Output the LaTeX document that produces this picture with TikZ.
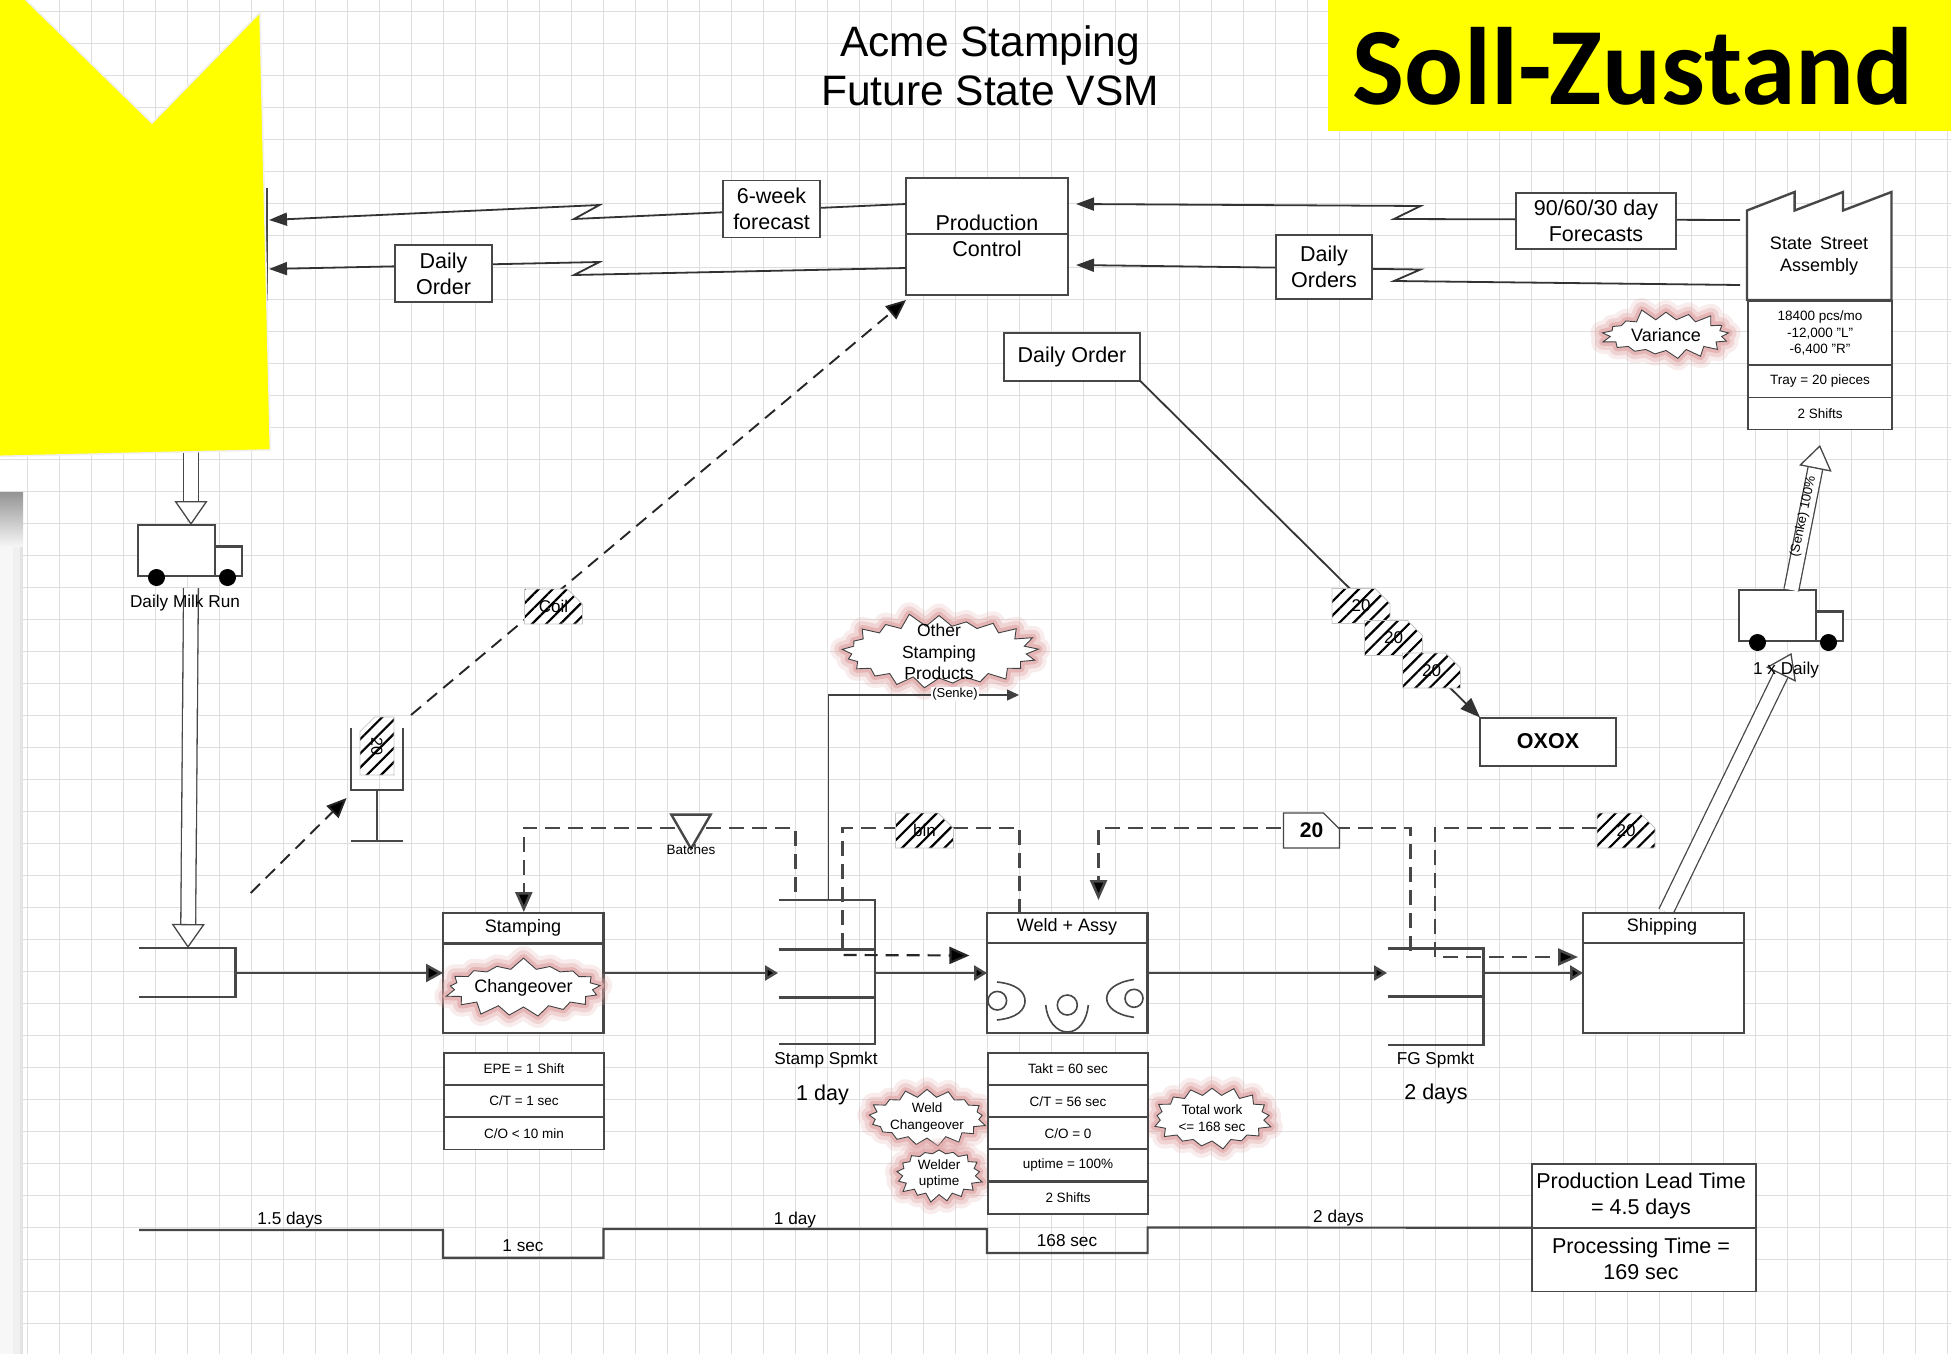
\documentclass[tikz,border=0pt]{standalone}
\usepackage{fontspec}
\setmainfont{Liberation Sans}
\newfontfamily\headfont{Carlito}
\usetikzlibrary{arrows.meta,shapes.misc,shapes.symbols,shapes.geometric,patterns.meta}
\definecolor{inkline}{gray}{0.28}
\definecolor{gridline}{gray}{0.87}
\definecolor{glowpink}{RGB}{226,170,170}
\definecolor{signyellow}{RGB}{255,255,0}
\tikzset{
  big/.style={font=\fontsize{21.5}{26}\selectfont,align=center,inner sep=0pt},
  mid/.style={font=\fontsize{18}{22}\selectfont,align=center,inner sep=0pt},
  tiny/.style={font=\fontsize{13.5}{16.5}\selectfont,align=center,inner sep=0pt},
  infobox/.style={draw=inkline,line width=1.6pt,fill=white,big,outer sep=0pt},
  procbox/.style={draw=inkline,line width=2.2pt,fill=white,outer sep=0pt},
  datacell/.style={draw=inkline,line width=1.6pt,fill=white,tiny,outer sep=0pt},
  boxline/.style={draw=inkline,line width=2.4pt},
  barline/.style={draw=inkline,line width=3pt},
  infoline/.style={draw=black!80,line width=1.8pt,-{Triangle[length=18pt,width=13pt]}},
  pushline/.style={draw=inkline,line width=2.5pt,-{Triangle[length=13pt,width=15pt,fill=black]}},
  pullline/.style={draw=inkline,line width=2.6pt,dash pattern=on 15pt off 8pt},
  dashflow/.style={draw=black!85,line width=1.9pt,dash pattern=on 13pt off 8pt},
  bigtip/.style={-{Triangle[length=20pt,width=17pt,fill=black]}},
  openflow/.style={draw=inkline,line width=1.3pt,double=white,double distance=13.5pt,
    -{Triangle[length=24pt,width=33pt,line width=1.3pt,fill=white]}},
  kanban/.style={chamfered rectangle,chamfered rectangle corners=north east,
    chamfered rectangle xsep=9pt,chamfered rectangle ysep=9pt,
    minimum width=58pt,minimum height=35pt,inner sep=0pt,outer sep=0pt,
    font=\fontsize{17}{20}\selectfont,draw=black!22,line width=.8pt,
    preaction={fill=white},pattern={Lines[angle=45,distance=10pt,line width=2.2pt]}},
  burst/.style={starburst,starburst points=17,starburst point height=12pt,
    random starburst=#1,draw=black!75,fill=white,line width=.9pt,inner sep=0pt,
    outer sep=0pt,align=center,line join=miter,
    preaction={draw=glowpink,opacity=.22,line width=24pt,line join=round},
    preaction={draw=glowpink,opacity=.35,line width=16pt,line join=round},
    preaction={draw=glowpink,opacity=.7,line width=8pt,line join=round}},
  burst/.default=3
}
\begin{document}
\begin{tikzpicture}[x=1pt,y=-1pt]
\useasboundingbox (0,0) rectangle (1951,1354);
\fill[white] (0,0) rectangle (1951,1354);
\foreach \i in {0,...,60} \draw[gridline,line width=1.7pt] (27.5+32*\i,0)--(27.5+32*\i,1354);
\foreach \i in {0,...,42} \draw[gridline,line width=1.7pt] (0,11.5+32*\i)--(1951,11.5+32*\i);
\fill[black!3] (0,492) rectangle (23,1354);
\fill[black!6] (13,492) rectangle (23,1354);
\fill[black!11] (20,492) rectangle (23,1354);
\shade[top color=black!42,bottom color=black!4] (0,492) rectangle (23,546);

\node[font=\fontsize{42.5}{49}\selectfont,align=center,inner sep=0pt] (title) at (990,66) {Acme Stamping\\Future State VSM};
\node[fill=signyellow,minimum width=623pt,minimum height=131pt,inner sep=0pt,outer sep=0pt] (sollzustand) at (1639.5,65.5) {};
\node[font=\headfont\bfseries\fontsize{110}{110}\selectfont,inner sep=0pt] (solltext) at (1633,66) {Soll-Zustand};

\node[infobox,minimum width=162pt,minimum height=117pt] (prodctl) at (987,236.5) {};
\draw[boxline] (prodctl.west |- 0,234)--(prodctl.east |- 0,234);
\node[big] (prodlbl) at (987,236) {Production\\Control};
\coordinate (ctlforecast) at (906,204);
\coordinate (ctlorder) at (906,268);
\coordinate (milkforecast) at (269,220);
\coordinate (milkorder) at (269,269);
\coordinate (ctlfromfc) at (1076,204);
\coordinate (ctlfromord) at (1076,265);
\coordinate (asmforecast) at (1740,220);
\coordinate (asmorder) at (1740,285);
\draw[draw=inkline,line width=2pt] (267,188)--(267,301);
\draw[infoline] (ctlforecast)--(574,219)--(599.5,205)--(milkforecast);
\draw[infoline] (ctlorder)--(574,275)--(599.5,262)--(milkorder);
\draw[infoline] (asmforecast)--(1394,219)--(1420.5,206)--(ctlfromfc);
\draw[infoline] (asmorder)--(1394,281)--(1420.5,269.5)--(ctlfromord);
\node[infobox,minimum width=97pt,minimum height=57pt] (sixweek) at (771.5,209) {6-week\\forecast};
\node[infobox,minimum width=97pt,minimum height=57pt] (dailyorderA) at (443.5,273.5) {Daily\\Order};
\node[infobox,minimum width=160pt,minimum height=56pt] (fcbox) at (1596,221) {90/60/30 day\\Forecasts};
\node[infobox,minimum width=96pt,minimum height=64pt] (dailyorders) at (1324,267) {Daily\\Orders};

\draw[boxline,fill=white] (1747,300)--(1747,210.5)--(1794.6,192)--(1794.6,210.5)--(1843,192)--(1843,210.5)--(1891.5,192)--(1891.5,300)--cycle;
\node[mid] (assembly) at (1819,256.5) {State\,\ Street\\Assembly};
\foreach \yc/\hh/\nm/\txt in {333/64/asmA/{18400 pcs/mo\\-12,000 "L"\\-6,400 "R"},381.5/32/asmB/{Tray = 20 pieces},413.5/32/asmC/{2 Shifts}}
  \node[datacell,minimum width=144pt,minimum height=\hh pt] (\nm) at (1820,\yc) {\txt};

\node[infobox,minimum width=136pt,minimum height=47.5pt] (dailyorderB) at (1072,357) {Daily Order};
\node[infobox,line width=2pt,minimum width=136pt,minimum height=48pt,font=\bfseries\fontsize{21.5}{26}\selectfont] (oxox) at (1548,741.5) {OXOX};
\draw[draw=black!80,line width=1.8pt,-{Triangle[length=20pt,width=15pt]}] (dailyorderB.south east)--(oxox.north west);
\node[kanban] (kanbanA) at (1361,606) {20};
\node[kanban] (kanbanB) at (1393.5,638) {20};
\node[kanban] (kanbanC) at (1431.5,670.5) {20};

\coordinate (signalout) at (411,715);
\coordinate (signalin) at (346.6,798);
\coordinate (signalfrom) at (250.7,893);
\coordinate (ctlin) at (906,300);
\draw[dashflow,bigtip] (signalfrom)--(signalin);
\draw[dashflow,bigtip] (signalout)--(ctlin);
\node[kanban] (coilkanban) at (553.5,606.5) {Coil};
\draw[boxline] (350.7,728)--(350.7,790)--(402.7,790)--(402.7,728);
\draw[boxline] (376.7,790)--(376.7,841);
\draw[boxline] (350.7,841)--(402.7,841);
\node[kanban,chamfered rectangle corners=north west,minimum width=34pt,minimum height=58pt,font=\fontsize{16}{18}\selectfont] (signalkanban) at (377,746) {\rotatebox{-90}{20}};

\foreach \tx/\ty/\nm/\txt in {138/525/milktruck/{Daily Milk Run},1739/590/shiptruck/{1 x Daily}} {
  \node[draw=inkline,line width=2.2pt,fill=white,minimum width=77pt,minimum height=51pt,inner sep=0pt,outer sep=0pt] (\nm) at (\tx+38.5,\ty+25.5) {};
  \draw[boxline,fill=white] (\tx+77,\ty+51)--(\tx+77,\ty+21.5)--(\tx+104,\ty+21.5)--(\tx+104,\ty+51)--cycle;
  \fill (\tx+18.5,\ty+52.5) circle (8.5);
  \fill (\tx+89.5,\ty+52.5) circle (8.5);
}
\coordinate (milkdown) at (191,440);
\coordinate (milktop) at (191,525);
\coordinate (milkbot) at (191,588);
\coordinate (supplytop) at (188,948);
\coordinate (shiptop) at (1665.7,912);
\coordinate (truckin) at (1791.5,653);
\coordinate (truckout) at (1791.3,590);
\coordinate (asmin) at (1820,445);
\draw[openflow] (milkdown)--(milktop);
\draw[openflow] (milkbot)--(supplytop);
\draw[openflow] (shiptop)--(truckin);
\draw[openflow] (truckout)--(asmin);
\node[font=\fontsize{17.2}{20}\selectfont,inner sep=0pt] (milklbl) at (185,603) {Daily Milk Run};
\node[font=\fontsize{17.2}{20}\selectfont,inner sep=0pt] (shiplbl) at (1786,670.5) {1 x Daily};
\node[font=\fontsize{13}{15}\selectfont,inner sep=0pt,rotate=78] (senkeB) at (1803.3,516.7) {(Senke) 100\%};

\draw[boxline] (139,948)--(235.5,948)--(235.5,997)--(139,997);
\node[procbox,minimum width=160.5pt,minimum height=120.5pt] (stamping) at (523.25,973) {};
\draw[boxline] (stamping.west |- 0,943.3)--(stamping.east |- 0,943.3);
\node[mid] (stamplbl) at (523,927.5) {Stamping};
\node[procbox,minimum width=160.5pt,minimum height=120.5pt] (weld) at (1067.3,973) {};
\draw[boxline] (weld.west |- 0,943)--(weld.east |- 0,943);
\node[mid] (weldlbl) at (1067,927) {Weld + Assy};
\node[procbox,minimum width=161pt,minimum height=120.5pt] (shipping) at (1663.5,973) {};
\draw[boxline] (shipping.west |- 0,943)--(shipping.east |- 0,943);
\node[mid] (shiplabel) at (1662,927) {Shipping};

\draw[draw=inkline,line width=1.6pt] (997.3,1000.7) circle (9.3);
\draw[draw=inkline,line width=1.6pt] (1067.3,1005) circle (10);
\draw[draw=inkline,line width=1.6pt] (1134,998.3) circle (9);
\draw[draw=inkline,line width=1.6pt] (997,982) .. controls (1017,984) and (1025,992) .. (1025,1001) .. controls (1025,1010) and (1017,1018) .. (997,1020);
\draw[draw=inkline,line width=1.6pt] (1045.7,1005) .. controls (1047,1020) and (1056,1032) .. (1067.3,1032) .. controls (1079,1032) and (1087,1020) .. (1088.3,1005);
\draw[draw=inkline,line width=1.6pt] (1134,979.5) .. controls (1116,982) and (1106.7,990) .. (1106.7,998.3) .. controls (1106.7,1007) and (1116,1015) .. (1134,1017.3);

\draw[boxline] (778.6,900)--(875,900)--(875,1044)--(778.6,1044);
\draw[barline] (778.6,949)--(875,949);
\draw[barline] (778.6,997)--(875,997);
\draw[boxline] (1387.6,948.6)--(1483.3,948.6)--(1483.3,1045)--(1387.6,1045);
\draw[barline] (1387.6,996)--(1483.3,996);
\node[font=\fontsize{17.2}{20}\selectfont,inner sep=0pt] (stamplabel) at (826,1060) {Stamp Spmkt};
\node[big] (stampdays) at (822.5,1095) {1 day};
\node[font=\fontsize{17.2}{20}\selectfont,inner sep=0pt] (fglabel) at (1435.5,1060.5) {FG Spmkt};
\node[big] (fgdays) at (1436,1094) {2 days};

\node[burst=5,minimum width=136pt,minimum height=55pt,mid] (variance) at (1666,335) {Variance};
\node[burst=7,minimum width=153pt,minimum height=62pt,mid] (changeover) at (523.5,988) {Changeover};
\node[burst=11,starburst points=21,starburst point height=14pt,inner ysep=-9.5pt,minimum width=203pt,font=\fontsize{17.5}{21.5}\selectfont] (otherprod) at (939,652) {Other\\Stamping\\Products};
\node[burst=4,starburst point height=9pt,minimum width=112pt,minimum height=47pt,tiny] (weldchange) at (927,1117.5) {Weld\\Changeover};
\node[burst=6,starburst point height=9pt,minimum width=91pt,minimum height=48pt,tiny] (welderup) at (939,1174) {Welder\\uptime};
\node[burst=8,starburst point height=10pt,minimum width=124pt,minimum height=66pt,tiny] (totalwork) at (1212,1118) {Total work\\<= 168 sec};

\foreach \yc/\nm/\txt in {1069/stampA/{EPE = 1 Shift},1101/stampB/{C/T = 1 sec},1133.5/stampC/{C/O < 10 min}}
  \node[datacell,minimum width=160pt,minimum height=32pt] (\nm) at (524,\yc) {\txt};
\foreach \yc/\nm/\txt in {1069/weldA/{Takt = 60 sec},1101.2/weldB/{C/T = 56 sec},1133.2/weldC/{C/O = 0},1165.2/weldD/{uptime = 100\%},1197.7/weldE/{2 Shifts}}
  \node[datacell,minimum width=160pt,minimum height=32pt] (\nm) at (1068,\yc) {\txt};

\coordinate (supplyout) at (235.5,973);
\coordinate (stampin) at (778,973);
\coordinate (stampout) at (875,973);
\coordinate (fgin) at (1387,973);
\coordinate (fgout) at (1483.3,973);
\coordinate (senkeout) at (828.3,900);
\coordinate (senkeend) at (1019,695);
\draw[pushline,-{Triangle[length=17pt,width=18pt,fill=black]}] (supplyout)--(stamping.west);
\draw[pushline] (stamping.east)--(stampin);
\draw[pushline] (stampout)--(weld.west);
\draw[pushline] (weld.east)--(fgin);
\draw[pushline] (fgout)--(shipping.west);
\draw[draw=black!75,line width=1.3pt,-{Triangle[length=12pt,width=11pt]}] (senkeout)--(828.3,695)--(senkeend);
\node[font=\fontsize{13}{15}\selectfont,fill=white,inner sep=1pt] (senkeA) at (955,694) {(Senke)};

\coordinate (stampup) at (795.4,892);
\coordinate (stampdown) at (523.8,912);
\coordinate (marketup) at (842.5,948);
\coordinate (weldup) at (1019.7,912);
\coordinate (fgup) at (1410.6,951);
\coordinate (welddown) at (1098.5,900);
\coordinate (fgmid) at (1435,957);
\coordinate (shipkan) at (1597,828);
\coordinate (shipin) at (1578,957);
\coordinate (weldfrom) at (843.6,955);
\coordinate (weldto) at (969.4,955.5);
\draw[pullline,bigtip] (stampup)--(795.4,828)--(523.8,828)--(stampdown);
\draw[pullline] (marketup)--(842.5,828)--(1019.7,828)--(weldup);
\draw[pullline,bigtip] (fgup)--(1410.6,828)--(1098.5,828)--(welddown);
\draw[pullline,bigtip] (shipkan)--(1435,828)--(fgmid)--(shipin);
\draw[dashflow,line width=2.2pt,bigtip] (weldfrom)--(weldto);

\node[draw=inkline,line width=2.4pt,fill=white,isosceles triangle,isosceles triangle apex angle=60,shape border rotate=-90,minimum height=34pt,inner sep=0pt,outer sep=0pt] (batchmark) at (691,826) {};
\node[font=\fontsize{13.5}{16}\selectfont,inner sep=0pt] (batchlbl) at (691,850) {Batches};
\node[kanban] (binkanban) at (924.5,830.5) {bin};
\node[kanban] (shipkanban) at (1626,830.5) {20};
\node[chamfered rectangle,chamfered rectangle corners=north east,chamfered rectangle xsep=7pt,chamfered rectangle ysep=9pt,draw=inkline,line width=1.4pt,fill=white,minimum width=56pt,minimum height=35pt,inner sep=0pt,outer sep=0pt,font=\bfseries\fontsize{21}{25}\selectfont] (tworeq) at (1311.5,830.5) {20};

\coordinate (tlstart) at (139,1230);
\node[infobox,minimum width=224pt,minimum height=127.5pt] (tlbox) at (1644,1227.7) {};
\draw[draw=inkline,line width=1.8pt] (tlbox.west)--(tlbox.east);
\node[big] (leadtime) at (1641,1195.5) {Production Lead Time\\= 4.5 days};
\node[big] (proctime) at (1641,1259) {Processing Time =\\169 sec};
\draw[draw=inkline,line width=2.2pt] (tlstart)--(443,1230)--(443,1257.7)--(603.5,1257.7)--(603.5,1229)--(987,1229)--(987,1253)--(1147.6,1253)--(1147.6,1227.5)--(tlbox.west);
\foreach \lx/\ly/\nm/\txt in {290/1220/tlA/{1.5 days},523/1245.5/tlB/{1 sec},795/1220/tlC/{1 day},1067/1240.5/tlD/{168 sec},1338.5/1218.5/tlE/{2 days}}
  \node[font=\fontsize{17.2}{20}\selectfont,inner sep=0pt] (\nm) at (\lx,\ly) {\txt};

\draw[draw=black!6,fill=signyellow,line width=1.6pt] (-2,-2)--(24,-2)--(152,123)--(260,12.4)--(270.4,450)--(-2,456.4)--cycle;
\end{tikzpicture}
\end{document}
